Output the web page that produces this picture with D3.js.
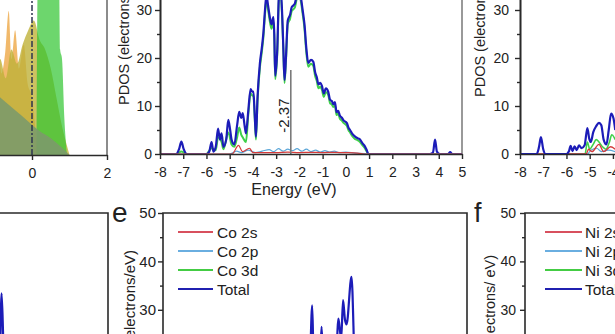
<!DOCTYPE html>
<html>
<head>
<meta charset="utf-8">
<script src="https://cdn.jsdelivr.net/npm/d3@7"></script>
<style>
  body { margin: 0; background: #fff; }
  svg { display: block; font-family: "Liberation Sans", Arial, sans-serif; }
</style>
</head>
<body>
<script>
// ---------------- DATA ----------------
// Top-left panel (overlapping PDOS areas, energy vs value)
const areaOrange = [[-1,22],[-0.9,25],[-0.82,17],[-0.72,21],[-0.62,30],[-0.55,20],[-0.45,26],[-0.35,18],[-0.22,23],[-0.12,15],[0,12],[0.1,5],[0.2,0]];
const areaOlive  = [[-1,18],[-0.85,20],[-0.7,16],[-0.55,22],[-0.4,19],[-0.25,23],[-0.1,26],[0.05,28],[0.2,24],[0.35,22],[0.5,18],[0.65,12],[0.8,6],[0.93,2],[1.0,0]];
const areaGreen  = [[0.12,0],[0.15,34],[0.5,40],[0.72,36],[0.75,22],[0.8,20],[0.86,8],[0.93,0]];
const areaBase   = [[-1,13],[-0.7,11],[-0.4,9],[-0.1,7],[0.2,5],[0.5,3.5],[0.8,1.5],[1.0,0]];
const topLeftTicks = [0, 2];

// Top-middle panel (Co PDOS)
const coTotal = [[-8,0],[-7.3,0],[-7.18,1],[-7.08,2.6],[-6.98,1],[-6.85,0],[-6.0,0],[-5.88,0.5],[-5.78,2.5],[-5.7,0.5],[-5.6,1.5],[-5.5,5.3],[-5.42,3],[-5.35,4.3],[-5.27,1.5],[-5.15,3],[-5.06,7.1],[-4.98,5],[-4.92,3],[-4.8,2],[-4.68,6],[-4.59,8.8],[-4.5,7.5],[-4.44,8.5],[-4.36,6],[-4.3,4.3],[-4.2,9],[-4.1,13.5],[-4.03,13],[-3.98,13],[-3.92,8],[-3.87,3.6],[-3.8,12],[-3.7,18.9],[-3.62,22],[-3.55,25.2],[-3.48,30],[-3.42,33],[-3.35,31],[-3.29,29],[-3.2,27],[-3.12,28.5],[-3.08,25],[-3.04,16.3],[-2.95,22],[-2.88,33],[-2.8,34],[-2.74,29],[-2.69,22],[-2.64,15.4],[-2.58,20],[-2.5,27.8],[-2.4,29],[-2.33,30.6],[-2.25,31],[-2.19,31.4],[-2.12,33],[-2.02,34],[-1.95,33],[-1.86,30],[-1.78,27],[-1.7,22],[-1.62,19],[-1.5,19.6],[-1.4,19.2],[-1.32,17],[-1.25,16],[-1.18,14.5],[-1.1,14.8],[-1.03,14.2],[-0.95,12.6],[-0.86,13.7],[-0.76,13],[-0.68,11.3],[-0.6,11],[-0.54,10.4],[-0.47,10.8],[-0.4,8.7],[-0.33,9],[-0.26,8],[-0.18,7.6],[-0.1,7],[0.04,6.5],[0.12,5.4],[0.18,5],[0.28,4.2],[0.4,3.6],[0.5,3.3],[0.61,3],[0.72,2.2],[0.82,1.6],[0.9,0.8],[0.97,0],[3.6,0],[3.75,0.3],[3.84,3],[3.92,0.5],[4.05,0],[4.4,0],[4.49,0.4],[4.58,0],[5,0]];
const co3d = [[-8,0],[-7.3,0],[-7.08,0.5],[-6.85,0],[-6.0,0],[-5.78,1.2],[-5.6,0.8],[-5.5,3.5],[-5.35,2.5],[-5.27,1],[-5.06,4.5],[-4.92,2],[-4.8,1.5],[-4.68,3.5],[-4.59,5.5],[-4.5,4],[-4.44,3.5],[-4.3,2.5],[-4.2,8.2],[-4.1,12.6],[-4.03,12.2],[-3.98,12.1],[-3.92,7.3],[-3.87,3],[-3.8,11.2],[-3.7,18],[-3.62,21.1],[-3.55,24.3],[-3.48,29.1],[-3.42,32.1],[-3.35,30.2],[-3.29,28.2],[-3.2,26.1],[-3.12,27.6],[-3.08,24.2],[-3.04,15.6],[-2.95,21.2],[-2.88,32.2],[-2.8,33.1],[-2.74,28.2],[-2.69,21.3],[-2.64,14.8],[-2.58,19.2],[-2.5,27],[-2.4,28.2],[-2.33,29.8],[-2.25,30.2],[-2.19,30.6],[-2.12,32.2],[-2.02,33.1],[-1.95,32.2],[-1.86,29.2],[-1.78,26.1],[-1.7,21.1],[-1.62,18.2],[-1.5,18.8],[-1.4,18.3],[-1.32,16.2],[-1.25,15.2],[-1.18,13.7],[-1.1,14],[-1.03,13.4],[-0.95,11.9],[-0.86,12.9],[-0.76,12.3],[-0.68,10.6],[-0.6,10.3],[-0.54,9.8],[-0.47,10.1],[-0.4,8.1],[-0.33,8.4],[-0.26,7.4],[-0.18,7],[-0.1,6.5],[0.04,5.9],[0.12,4.9],[0.18,4.5],[0.28,3.7],[0.4,3.1],[0.5,2.9],[0.61,2.5],[0.72,1.8],[0.82,1.2],[0.9,0.5],[0.97,0],[5,0]];
const co2p = [[-8,0],[-5.0,0],[-4.7,0.6],[-4.5,0.3],[-4.2,0.8],[-3.9,0.3],[-3.6,0.6],[-3.3,0.9],[-3.1,0.5],[-2.9,1.1],[-2.7,0.6],[-2.5,1.0],[-2.3,0.7],[-2.1,1.1],[-1.9,0.6],[-1.7,1.0],[-1.5,0.5],[-1.3,0.8],[-1.1,0.4],[-0.9,0.7],[-0.7,0.4],[-0.5,0.6],[-0.3,0.3],[0,0.4],[0.4,0.2],[0.8,0.1],[1.0,0],[5,0]];
const co2s = [[-8,0],[-4.9,0],[-4.62,1.8],[-4.45,0.5],[-4.15,1.2],[-4.0,0.3],[-3.6,0.3],[-3,0.3],[-2.5,0.4],[-2,0.3],[-1.5,0.35],[-1,0.3],[-0.5,0.35],[0,0.3],[0.5,0.2],[0.9,0],[5,0]];
const dBandCenter = -2.37;
const energyTicks = [-8,-7,-6,-5,-4,-3,-2,-1,0,1,2,3,4,5];
const pdosTicks = [0,10,20,30];
const pdosMinor = [5,15,25];

// Top-right panel (Ni PDOS)
const niTotal = [[-8,0],[-7.28,0],[-7.18,1.5],[-7.1,3.5],[-7.0,1],[-6.9,0],[-6.0,0],[-5.9,0.5],[-5.82,1.7],[-5.74,0.6],[-5.65,1.6],[-5.56,0.8],[-5.46,1.8],[-5.35,1.2],[-5.22,1.8],[-5.1,5.4],[-5.02,3.2],[-4.95,2.5],[-4.85,4.5],[-4.72,5.8],[-4.6,6.5],[-4.5,6],[-4.4,3],[-4.28,2],[-4.18,5],[-4.08,8.4],[-3.98,7.5],[-3.9,5]];
const ni3d = [[-8,0],[-5.2,0],[-5.1,2.5],[-5.0,1],[-4.85,2],[-4.72,3],[-4.6,2.5],[-4.45,1.5],[-4.3,1],[-4.15,2.5],[-4.05,4],[-3.9,3]];
const ni2p = [[-8,0],[-5.1,0],[-4.95,0.8],[-4.7,1.2],[-4.5,0.5],[-4.2,0.8],[-3.9,0.5]];
const ni2s = [[-8,0],[-5.15,0],[-5.05,1],[-4.9,0.5],[-4.6,2],[-4.4,0.5],[-4.1,1.5],[-3.9,1]];

// Bottom panels
const dTotal = [[0.2,0],[0.38,20],[0.45,33.4],[0.52,24],[0.62,10],[0.8,0]];
const eTotal = [[-8,0],[-2.2,0],[-1.9,8],[-1.72,18],[-1.62,30.9],[-1.56,20],[-1.48,18],[-1.36,23],[-1.28,20],[-1.22,26.5],[-1.15,19],[-1.0,12],[-0.8,8],[-0.62,15],[-0.5,28.2],[-0.44,26],[-0.38,24],[-0.3,32],[-0.22,28],[-0.15,27],[0.06,36.8],[0.2,18],[0.3,10],[0.5,5],[0.8,2],[1.2,0],[5,0]];
const eTicks = [30,40,50];
const eMinor = [35,45];
const legendCo = ["Co 2s","Co 2p","Co 3d","Total"];
const legendNi = ["Ni 2s","Ni 2p","Ni 3d","Total"];
const seriesColors = ["#d8505e","#6aaee0","#44cc44","#2020b0"];

// ---------------- DRAW ----------------
const W = 615, H = 334;
const svg = d3.select("body").append("svg").attr("width", W).attr("height", H);
const defs = svg.append("defs");
let clipId = 0;
function clip(x0, x1, y0, y1) {
  const id = "clip" + (clipId++);
  defs.append("clipPath").attr("id", id).append("rect")
    .attr("x", Math.min(x0,x1)).attr("y", Math.min(y0,y1))
    .attr("width", Math.abs(x1-x0)).attr("height", Math.abs(y1-y0));
  return "url(#" + id + ")";
}
const fmt = d => String(d);
const AX = "#2a2a2a";

function styleAxis(g, fs) {
  g.select(".domain").attr("stroke", AX).attr("stroke-width", 1.6);
  g.selectAll(".tick line").attr("stroke", AX).attr("stroke-width", 1.4);
  g.selectAll(".tick text").attr("fill", "#222").style("font-size", fs + "px")
    .style("font-family", '"Liberation Sans", Arial, sans-serif');
}
function line(x, y) {
  return d3.line().x(d => x(d[0])).y(d => y(d[1])).curve(d3.curveMonotoneX);
}

// ---- Top-left panel (areas) ----
{
  const x = d3.scaleLinear([-6, 2], [-193, 107]);
  const y = d3.scaleLinear([0, 35], [155, 155 - 35 * 4.8]);
  const g = svg.append("g").attr("clip-path", clip(x(-6), x(2), y(0), y(35)));
  const area = d3.area().x(d => x(d[0])).y0(y(0)).y1(d => y(d[1])).curve(d3.curveMonotoneX);
  g.append("path").datum(areaOrange).attr("d", area).attr("fill", "#eca23a").attr("fill-opacity", 0.75);
  g.append("path").datum(areaOlive).attr("d", area).attr("fill", "#bfb23a").attr("fill-opacity", 0.8);
  g.append("path").datum(areaGreen).attr("d", area).attr("fill", "#2fc42f").attr("fill-opacity", 0.7);
  g.append("path").datum(areaBase).attr("d", area).attr("fill", "#7c9a6a").attr("fill-opacity", 0.9);
  g.append("line").attr("x1", x(0)).attr("x2", x(0)).attr("y1", y(0)).attr("y2", y(35))
    .attr("stroke", "#2c3550").attr("stroke-width", 1.5).attr("stroke-dasharray", "6,2,2,2");
  svg.append("line").attr("x1", x(2)).attr("x2", x(2)).attr("y1", y(35)).attr("y2", y(0))
    .attr("stroke", "#666").attr("stroke-width", 1.5);
  const ax = svg.append("g").attr("transform", `translate(0,${y(0)})`)
    .call(d3.axisBottom(x).tickValues(topLeftTicks).tickFormat(fmt).tickSize(5).tickPadding(8).tickSizeOuter(0));
  styleAxis(ax, 14);
}

// generic PDOS panel
function pdosPanel(x, y, yTop, series) {
  const x0 = x.range()[0], x1 = x.range()[1];
  const g = svg.append("g").attr("clip-path", clip(x0, x1, y(0) + 1, y(yTop)));
  series.forEach(s => {
    g.append("path").datum(s.data).attr("d", line(x, y)).attr("fill", "none")
      .attr("stroke", s.color).attr("stroke-width", s.w).attr("stroke-linejoin", "round");
  });
  return g;
}

// ---- Top-middle panel (Co) ----
{
  const x = d3.scaleLinear([-8, 5], [160, 462]);
  const y = d3.scaleLinear([0, 35], [154, 154 - 35 * 4.8]);
  svg.append("line").attr("x1", x(5)).attr("x2", x(5)).attr("y1", y(35)).attr("y2", y(0))
    .attr("stroke", "#777").attr("stroke-width", 1.5);
  pdosPanel(x, y, 35, [
    {data: co3d, color: "#3fd04a", w: 2.0},
    {data: coTotal, color: "#1c1cb8", w: 2.2},
    {data: co2p, color: "#5aa6d8", w: 1.2},
    {data: co2s, color: "#d43a3a", w: 1.2}
  ]);
  svg.append("line").attr("x1", x(dBandCenter)).attr("x2", x(dBandCenter))
    .attr("y1", y(17.5)).attr("y2", y(0)).attr("stroke", "#7a7a7a").attr("stroke-width", 1.6);
  svg.append("text").attr("transform", `translate(${x(dBandCenter) - 1.5},${y(8)}) rotate(-90)`)
    .attr("text-anchor", "middle").style("font-size", "15px").attr("fill", "#222").text(String(dBandCenter));
  const ax = svg.append("g").attr("transform", `translate(0,${y(0)})`)
    .call(d3.axisBottom(x).tickValues(energyTicks).tickFormat(fmt).tickSize(5).tickPadding(8).tickSizeOuter(0));
  styleAxis(ax, 14);
  const ay = svg.append("g").attr("transform", `translate(${x(-8)},0)`)
    .call(d3.axisLeft(y).tickValues(pdosTicks).tickFormat(fmt).tickSize(5).tickPadding(3).tickSizeOuter(0));
  styleAxis(ay, 14);
  const am = svg.append("g").attr("transform", `translate(${x(-8)},0)`)
    .call(d3.axisLeft(y).tickValues(pdosMinor).tickFormat("").tickSize(3).tickSizeOuter(0));
  styleAxis(am, 14);
  svg.append("text").attr("transform", `translate(129,105) rotate(-90)`)
    .attr("text-anchor", "start").style("font-size", "14.5px").attr("fill", "#222").text("PDOS (electrons/eV)");
  svg.append("text").attr("x", 294).attr("y", 195).attr("text-anchor", "middle")
    .style("font-size", "16px").attr("fill", "#222").text("Energy (eV)");
}

// ---- Top-right panel (Ni) ----
{
  const x = d3.scaleLinear([-8, 5], [520, 822]);
  const y = d3.scaleLinear([0, 35], [154, 154 - 35 * 4.8]);
  pdosPanel(x, y, 35, [
    {data: ni3d, color: "#3fd04a", w: 1.6},
    {data: ni2p, color: "#5aa6d8", w: 1.2},
    {data: ni2s, color: "#d43a3a", w: 1.4},
    {data: niTotal, color: "#1c1cb8", w: 2.2}
  ]);
  const ax = svg.append("g").attr("transform", `translate(0,${y(0)})`)
    .call(d3.axisBottom(x).tickValues(energyTicks).tickFormat(fmt).tickSize(5).tickPadding(8).tickSizeOuter(0));
  styleAxis(ax, 14);
  const ay = svg.append("g").attr("transform", `translate(${x(-8)},0)`)
    .call(d3.axisLeft(y).tickValues(pdosTicks).tickFormat(fmt).tickSize(5).tickPadding(6).tickSizeOuter(0));
  styleAxis(ay, 14);
  const am = svg.append("g").attr("transform", `translate(${x(-8)},0)`)
    .call(d3.axisLeft(y).tickValues(pdosMinor).tickFormat("").tickSize(3).tickSizeOuter(0));
  styleAxis(am, 14);
  svg.append("text").attr("transform", `translate(485,97) rotate(-90)`)
    .attr("text-anchor", "start").style("font-size", "14.5px").attr("fill", "#222").text("PDOS (electrons/eV)");
}

// ---- Bottom panels ----
function bottomFrame(x, y) {
  svg.append("path")
    .attr("d", `M${x(-8)},${y(0)}V${y(50)}H${x(5)}V${y(0)}`)
    .attr("fill", "none").attr("stroke", AX).attr("stroke-width", 1.6);
}
{
  // panel d (left, cut off)
  const x = d3.scaleLinear([-8, 5], [-196, 108]);
  const y = d3.scaleLinear([0, 50], [455, 213]);
  pdosPanel(x, y, 50, [{data: dTotal, color: "#1c1cb8", w: 2.2}]);
  bottomFrame(x, y);
}
function legend(x0, labels, textX) {
  const ys = [232, 251, 270, 289];
  labels.forEach((t, i) => {
    svg.append("line").attr("x1", x0[0]).attr("x2", x0[1]).attr("y1", ys[i]).attr("y2", ys[i])
      .attr("stroke", seriesColors[i]).attr("stroke-width", 1.8);
    svg.append("text").attr("x", textX).attr("y", ys[i] + 5.5).style("font-size", "15.5px")
      .attr("fill", "#222").text(t);
  });
}
{
  // panel e (Co)
  const x = d3.scaleLinear([-8, 5], [163, 467]);
  const y = d3.scaleLinear([0, 50], [455, 213]);
  pdosPanel(x, y, 50, [{data: eTotal, color: "#1c1cb8", w: 2.2}]);
  bottomFrame(x, y);
  const ay = svg.append("g").attr("transform", `translate(${x(-8)},0)`)
    .call(d3.axisLeft(y).tickValues(eTicks).tickFormat(fmt).tickSize(5).tickPadding(2).tickSizeOuter(0));
  styleAxis(ay, 15);
  const am = svg.append("g").attr("transform", `translate(${x(-8)},0)`)
    .call(d3.axisLeft(y).tickValues(eMinor).tickFormat("").tickSize(3).tickSizeOuter(0));
  styleAxis(am, 15);
  ay.select(".domain").remove(); am.select(".domain").remove();
  legend([178, 213], legendCo, 217);
  svg.append("text").attr("x", 112).attr("y", 222).style("font-size", "28px").attr("fill", "#222").text("e");
  svg.append("text").attr("transform", `translate(135,250) rotate(-90)`)
    .attr("text-anchor", "end").style("font-size", "15px").attr("fill", "#222").text("PDOS (electrons/eV)");
}
{
  // panel f (Ni)
  const x = d3.scaleLinear([-8, 5], [525, 829]);
  const y = d3.scaleLinear([0, 50], [455, 213]);
  bottomFrame(x, y);
  const ay = svg.append("g").attr("transform", `translate(${x(-8)},0)`)
    .call(d3.axisLeft(y).tickValues(eTicks).tickFormat(fmt).tickSize(5).tickPadding(4).tickSizeOuter(0));
  styleAxis(ay, 14);
  const am = svg.append("g").attr("transform", `translate(${x(-8)},0)`)
    .call(d3.axisLeft(y).tickValues(eMinor).tickFormat("").tickSize(3).tickSizeOuter(0));
  styleAxis(am, 14);
  ay.select(".domain").remove(); am.select(".domain").remove();
  legend([545, 582], legendNi, 585);
  svg.append("text").attr("x", 474).attr("y", 222).style("font-size", "27px").attr("fill", "#222").text("f");
  svg.append("text").attr("transform", `translate(495,255) rotate(-90)`)
    .attr("text-anchor", "end").style("font-size", "14.5px").attr("fill", "#222").text("PDOS (electrons/ eV)");
}
</script>
</body>
</html>
